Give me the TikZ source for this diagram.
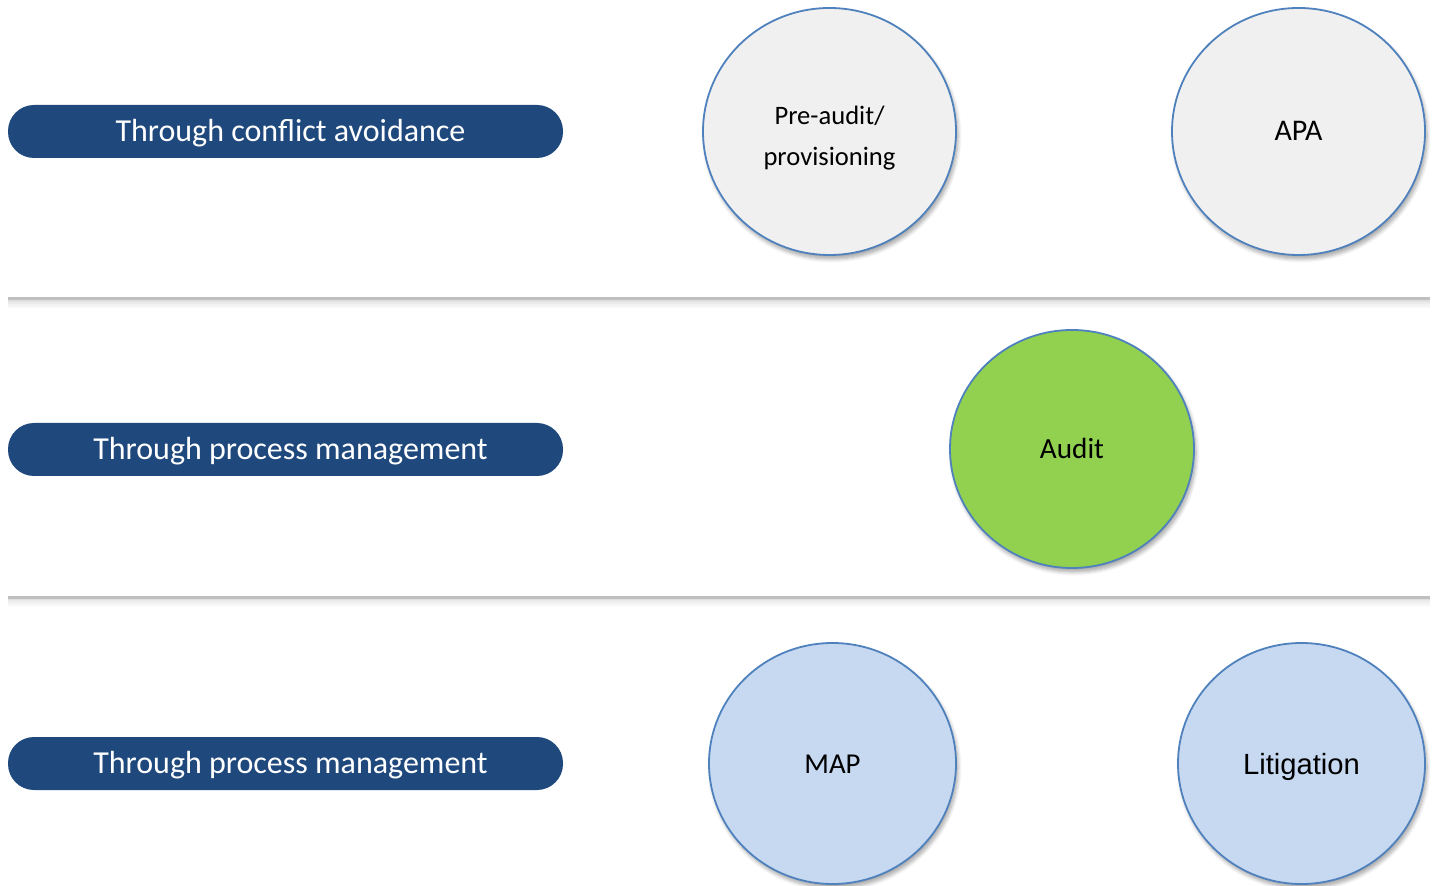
\documentclass[tikz,border=0pt]{standalone}
\usepackage{fontspec}
\setmainfont{Carlito}
\newfontfamily\arialfont{Liberation Sans}
\usepackage{xcolor}
\usetikzlibrary{shapes.geometric, shadows.blur}

\definecolor{pillblue}{HTML}{1F497D}
\definecolor{ringblue}{HTML}{4F81BD}
\definecolor{softgray}{HTML}{F0F0F0}
\definecolor{auditgreen}{HTML}{92D050}
\definecolor{paleblue}{HTML}{C6D9F1}
\definecolor{rulegray}{HTML}{BFBFBF}

\begin{document}
\begin{tikzpicture}[
  x=0.5pt, y=-0.5pt,
  pill/.style={rectangle, rounded corners=13pt, fill=pillblue, text=white, minimum width=277.5pt, minimum height=26.5pt, font=\fontsize{16}{19}\selectfont, inner sep=0pt, text height=10pt, text depth=0pt},
  bubble/.style={ellipse, draw=ringblue, line width=0.9pt, minimum width=126.5pt, minimum height=123.5pt, inner sep=0pt, align=center, font=\fontsize{13.3}{20.5}\selectfont,
    blur shadow={shadow xshift=1pt, shadow yshift=-2pt, shadow blur steps=6, shadow opacity=35}},
  smallbubble/.style={bubble, minimum width=122pt, minimum height=119pt},
  sepline/.style={rulegray, line width=1.5pt},
]
  \useasboundingbox (0,0) rectangle (1433,886);

  % row labels
  \node[pill] (avoid) at (285.5,131.5) {\hspace*{5pt}Through conflict avoidance};
  \node[pill] (process) at (285.5,449.5) {\hspace*{5pt}Through process management};
  \node[pill] (resolve) at (285.5,763.5) {\hspace*{5pt}Through process management};

  % separators
  \coordinate (sepAl) at (8,299);
  \coordinate (sepAr) at (1430,299);
  \coordinate (sepBl) at (8,597);
  \coordinate (sepBr) at (1430,597);
  \foreach \d/\o in {2/0.12, 4/0.08, 6/0.05, 8/0.03}{
    \draw[black, opacity=\o, line width=1pt] ([yshift=-\d*0.5pt]sepAl) -- ([yshift=-\d*0.5pt]sepAr);
    \draw[black, opacity=\o, line width=1pt] ([yshift=-\d*0.5pt]sepBl) -- ([yshift=-\d*0.5pt]sepBr);
  }
  \draw[sepline] (sepAl) -- (sepAr);
  \draw[sepline] (sepBl) -- (sepBr);

  % circles
  \node[bubble, fill=softgray, text height=34.5pt, text depth=0pt] (preaudit) at (829.5,131.5) {Pre-audit/\\provisioning};
  \node[bubble, fill=softgray, font=\fontsize{15}{18}\selectfont, text height=9pt, text depth=0pt] (apa) at (1298.5,131.5) {APA};
  \node[smallbubble, fill=auditgreen, font=\fontsize{14.6}{17}\selectfont, text height=9.3pt, text depth=0pt] (audit) at (1072,449) {Audit};
  \node[bubble, minimum width=123.5pt, minimum height=120.5pt, fill=paleblue, font=\fontsize{14.4}{17}\selectfont, text height=10pt, text depth=0pt] (map) at (832.5,763.5) {MAP};
  \node[bubble, minimum width=123.5pt, minimum height=120.5pt, fill=paleblue, font=\arialfont\fontsize{14.6}{17}\selectfont, text height=10.5pt, text depth=0pt] (litigation) at (1301.5,763.5) {Litigation};
\end{tikzpicture}
\end{document}
